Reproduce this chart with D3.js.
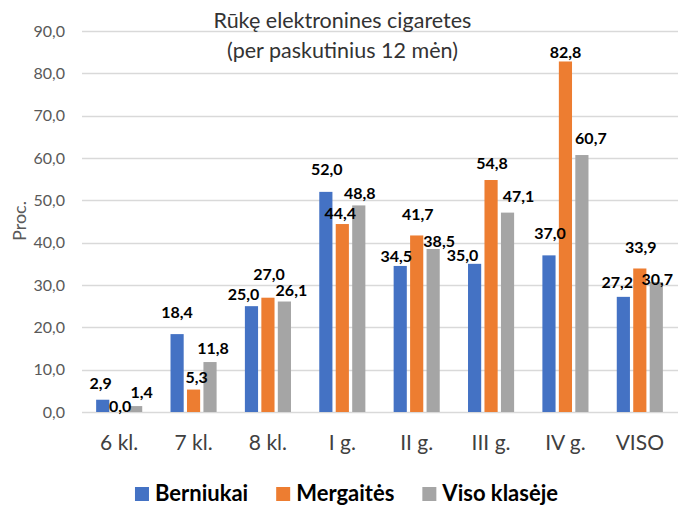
<!DOCTYPE html>
<html>
<head>
<meta charset="utf-8">
<script src="https://cdn.jsdelivr.net/npm/d3@7"></script>
<style>
  body { margin: 0; background: #fff; }
  svg { font-family: Lato, 'Open Sans', sans-serif; }
</style>
</head>
<body>
<svg class="svgChart" width="678" height="506"></svg>
<script>
// data
const categories = ['6 kl.', '7 kl.', '8 kl.', 'I g.', 'II g.', 'III g.', 'IV g.', 'VISO'];
const seriesNames = ['Berniukai', 'Mergaitės', 'Viso klasėje'];
const berniukai = [2.9, 18.4, 25.0, 52.0, 34.5, 35.0, 37.0, 27.2];
const mergaites = [0.0, 5.3, 27.0, 44.4, 41.7, 54.8, 82.8, 33.9];
const visoKlaseje = [1.4, 11.8, 26.1, 48.8, 38.5, 47.1, 60.7, 30.7];
const yTicks = [0, 10, 20, 30, 40, 50, 60, 70, 80, 90];
const colors = ['#4472C4', '#ED7D31', '#A5A5A5'];

// labels were dragged around by hand in the original, so keep small nudges [dx, dy]
const labelNudge = [
  [[-2, -4], [0, -10], [-8, 0], [1, -10], [-4, 2], [-12, 4], [1, -10], [-6, -2]],
  [[1, 6.5], [3, 0], [1, -11], [-2, 1], [1, -9], [1, -5], [0, 3], [1, -9]],
  [[6, -2], [3, -2], [7, 1], [1, 0], [6, 4], [11, -4], [9, -5], [1, 9]]
];

const margin = { top: 31, right: 0, bottom: 94, left: 82 };
const width = 678 - margin.left - margin.right;
const height = 506 - margin.top - margin.bottom;

const rows = categories.map((c, i) => ({
  cat: c,
  i: i,
  vals: [berniukai[i], mergaites[i], visoKlaseje[i]]
}));

const svg = d3.select('.svgChart');
const g = svg.append('g')
  .attr('transform', `translate(${margin.left}, ${margin.top})`);

const x0 = d3.scaleBand()
  .domain(categories)
  .range([0, width - 1])
  .paddingInner(0.336)
  .paddingOuter(0.168);

const x1 = d3.scaleBand()
  .domain(d3.range(seriesNames.length))
  .range([0, x0.bandwidth()])
  .paddingInner(0.2)
  .paddingOuter(0.1);

const y = d3.scaleLinear()
  .domain([0, 90])
  .range([height, 0]);

const fmt = v => d3.format('.1f')(v).replace('.', ',');

//gridlines
g.append('g')
  .selectAll('line')
  .data(yTicks)
  .enter()
  .append('line')
    .attr('x1', 0)
    .attr('x2', width)
    .attr('y1', d => Math.round(y(d)) + 0.5)
    .attr('y2', d => Math.round(y(d)) + 0.5)
    .attr('stroke', '#D9D9D9')
    .attr('stroke-width', 1.3);

//y tick labels
g.append('g')
  .selectAll('text')
  .data(yTicks)
  .enter()
  .append('text')
    .attr('x', -17)
    .attr('y', d => y(d))
    .attr('dy', '0.35em')
    .attr('text-anchor', 'end')
    .attr('fill', '#595959')
    .attr('font-size', 16)
    .text(d => fmt(d));

//bars
const groups = g.append('g')
  .selectAll('g')
  .data(rows)
  .enter()
  .append('g')
    .attr('transform', d => `translate(${x0(d.cat)}, 0)`);

groups.selectAll('rect')
  .data(d => d.vals.map((v, s) => ({ v: v, s: s })))
  .enter()
  .append('rect')
    .attr('x', d => x1(d.s))
    .attr('y', d => y(d.v))
    .attr('width', x1.bandwidth())
    .attr('height', d => y(0) - y(d.v))
    .attr('fill', d => colors[d.s]);

//data labels
groups.selectAll('text')
  .data(d => d.vals.map((v, s) => ({ v: v, s: s, i: d.i })))
  .enter()
  .append('text')
    .attr('x', d => x1(d.s) + x1.bandwidth() / 2 + labelNudge[d.s][d.i][0])
    .attr('y', d => y(d.v) - 12 + labelNudge[d.s][d.i][1])
    .attr('dy', '0.35em')
    .attr('text-anchor', 'middle')
    .attr('font-size', 16)
    .attr('font-weight', 'bold')
    .attr('fill', '#000')
    .text(d => fmt(d.v));

//category labels
g.append('g')
  .selectAll('text')
  .data(categories)
  .enter()
  .append('text')
    .attr('x', d => x0(d) + x0.bandwidth() / 2)
    .attr('y', height + 31)
    .attr('dy', '0.35em')
    .attr('text-anchor', 'middle')
    .attr('fill', '#404040')
    .attr('font-size', 21)
    .text(d => d);

//y axis title
svg.append('text')
  .attr('transform', 'translate(20, 221) rotate(-90)')
  .attr('dy', '0.35em')
  .attr('text-anchor', 'middle')
  .attr('fill', '#595959')
  .attr('font-size', 18)
  .text('Proc.');

//chart title
const title = svg.append('text')
  .attr('text-anchor', 'middle')
  .attr('fill', '#333')
  .attr('font-size', 21.5);
title.append('tspan')
  .attr('x', 342.5)
  .attr('y', 20)
  .attr('dy', '0.35em')
  .text('Rūkę elektronines cigaretes');
title.append('tspan')
  .attr('x', 342.5)
  .attr('y', 50)
  .attr('dy', '0.35em')
  .text('(per paskutinius 12 mėn)');

//legend
const legend = svg.append('g');
let lx = 0;
seriesNames.forEach((name, s) => {
  const item = legend.append('g').attr('transform', `translate(${lx}, 0)`);
  item.append('rect')
    .attr('x', 0)
    .attr('y', -6)
    .attr('width', 14)
    .attr('height', 14)
    .attr('fill', colors[s]);
  const t = item.append('text')
    .attr('x', 20)
    .attr('y', 0)
    .attr('dy', '0.35em')
    .attr('font-size', 22)
    .attr('font-weight', 'bold')
    .attr('fill', '#000')
    .text(name);
  lx += 20 + t.node().getComputedTextLength() + 28;
});
const legendWidth = lx - 28;
legend.attr('transform', `translate(${346.5 - legendWidth / 2}, 493)`);
</script>
</body>
</html>
